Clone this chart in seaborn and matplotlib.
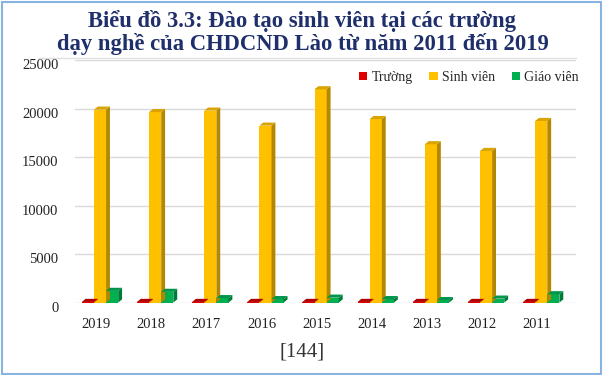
import matplotlib
matplotlib.use("Agg")
import matplotlib.pyplot as plt
from matplotlib.patches import Polygon, Rectangle
from matplotlib.transforms import ScaledTranslation
import seaborn as sns
import pandas as pd
import numpy as np

years = ["2019", "2018", "2017", "2016", "2015", "2014", "2013", "2012", "2011"]
truong = [60, 60, 60, 60, 60, 60, 60, 60, 60]
sinh_vien = [19900, 19650, 19800, 18250, 22000, 18930, 16330, 15640, 18730]
giao_vien = [1200, 1100, 450, 350, 500, 350, 250, 400, 850]
series = ["Trường", "Sinh viên", "Giáo viên"]
yticks = [0, 5000, 10000, 15000, 20000, 25000]

colors = {"Trường": "#E00000", "Sinh viên": "#FFC000", "Giáo viên": "#00B050"}
side_colors = {"Trường": "#9A0000", "Sinh viên": "#B38700", "Giáo viên": "#007A38"}
top_colors = {"Trường": "#B00000", "Sinh viên": "#D9A300", "Giáo viên": "#00954A"}

df = pd.DataFrame({
    "Năm": years * 3,
    "Series": [s for s in series for _ in years],
    "Value": truong + sinh_vien + giao_vien,
})

sns.set_theme(style="white")
plt.rcParams["font.family"] = ["Liberation Serif", "DejaVu Serif"]

fig = plt.figure(figsize=(6.05, 3.75), dpi=100)
ax = fig.add_axes([0.124, 0.1933, 0.828, 0.6461])

sns.barplot(data=df, x="Năm", y="Value", hue="Series", order=years,
            hue_order=series, palette=colors, width=0.66, saturation=1,
            ax=ax, legend=True, edgecolor="none", zorder=3)

ax.set_ylim(0, 25000)
ax.set_xlim(-0.453, 8.63)
ax.set_yticks(yticks)
ax.set_yticklabels([str(v) for v in yticks])
ax.grid(axis="y", color="#D9D9D9", linewidth=1, zorder=0)
ax.grid(axis="x", visible=False)
for s in ax.spines.values():
    s.set_visible(False)
ax.tick_params(axis="y", length=0, pad=12, labelsize=10.5, labelcolor="#222222")
ax.tick_params(axis="x", length=0, pad=11, labelsize=10.5, labelcolor="#222222")
ax.set_xlabel("")
ax.set_ylabel("")

for lbl in ax.get_yticklabels():
    lbl.set_transform(lbl.get_transform() + ScaledTranslation(0, -4 / 100, fig.dpi_scale_trans))
for lbl in ax.get_xticklabels():
    lbl.set_transform(lbl.get_transform() + ScaledTranslation(-4 / 100, 0, fig.dpi_scale_trans))

# pseudo-3D faces derived from the drawn bars
dx, dy = 0.07, 320
for cont, name in zip(ax.containers, series):
    for p in cont.patches:
        x0, w, h = p.get_x(), p.get_width(), p.get_height()
        x1 = x0 + w
        side = Polygon([[x1, 0], [x1 + dx, dy], [x1 + dx, h + dy], [x1, h]],
                       closed=True, facecolor=side_colors[name], edgecolor="none", zorder=3)
        top = Polygon([[x0, h], [x0 + dx, h + dy], [x1 + dx, h + dy], [x1, h]],
                      closed=True, facecolor=top_colors[name], edgecolor="none", zorder=3)
        ax.add_patch(side)
        ax.add_patch(top)

leg = ax.legend(loc="upper right", bbox_to_anchor=(1.022, 0.99), ncol=3, frameon=False,
                fontsize=10, handlelength=0.6, handleheight=0.6, handletextpad=0.3,
                columnspacing=1.2, borderaxespad=0.2)

fig.text(0.5, 0.945, "Biểu đồ 3.3: Đào tạo sinh viên tại các trường",
         ha="center", va="center", fontsize=16.3, fontweight="bold", color="#1F2F6B")
fig.text(0.5, 0.882, "dạy nghề của CHDCND Lào từ năm 2011 đến 2019",
         ha="center", va="center", fontsize=16.3, fontweight="bold", color="#1F2F6B")
fig.text(0.5, 0.062, "[144]", ha="center", va="center", fontsize=15, color="#333333")

fig.add_artist(plt.Line2D([0.065, 0.952], [0.845, 0.845], color="#E0E0E0", linewidth=1))
fig.patches.append(Rectangle((0.003, 0.004), 0.991, 0.99, transform=fig.transFigure,
                             fill=False, edgecolor="#8AB4E0", linewidth=1.5))

fig.savefig("out.png", dpi=100)
